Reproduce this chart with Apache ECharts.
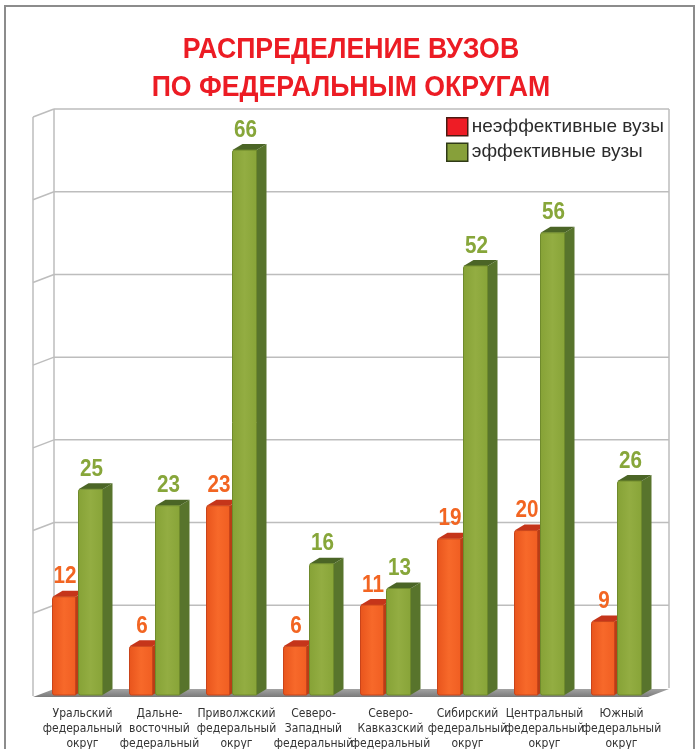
<!DOCTYPE html>
<html><head><meta charset="utf-8">
<script src="https://cdn.jsdelivr.net/npm/echarts@6/dist/echarts.min.js"></script>
<style>html,body{margin:0;padding:0;background:#fff}#c{width:699px;height:749px}</style>
</head><body><div id="c"></div>
<script>
const titleLines = ['РАСПРЕДЕЛЕНИЕ ВУЗОВ', 'ПО ФЕДЕРАЛЬНЫМ ОКРУГАМ'];
const categories = [
  'Уральский\nфедеральный\nокруг',
  'Дальне-\nвосточный\nфедеральный\nокруг',
  'Приволжский\nфедеральный\nокруг',
  'Северо-\nЗападный\nфедеральный\nокруг',
  'Северо-\nКавказский\nфедеральный\nокруг',
  'Сибирский\nфедеральный\nокруг',
  'Центральный\nфедеральный\nокруг',
  'Южный\nфедеральный\nокруг'
];
const seriesNames = ['неэффективные вузы', 'эффективные вузы'];
const ineffective = [12, 6, 23, 6, 11, 19, 20, 9];
const effective = [25, 23, 66, 16, 13, 52, 56, 26];
const wallTicks = [0, 10, 20, 30, 40, 50, 60, 70];

const chart = echarts.init(document.getElementById('c'), null, {renderer: 'canvas'});

const WALL_DX = 21, WALL_DY = -8;
const BAR_DX = 10, BAR_DY = -6;

function wallRender(params, api) {
  const cs = params.coordSys;
  const v = api.value(1);
  const y = api.coord([0, v])[1];
  const fx = cs.x - 11;
  const bx = fx + WALL_DX;
  const fxr = cs.x + cs.width - 12;
  const bxr = fxr + WALL_DX;
  const lineStyle = {stroke: '#bdbdbd', lineWidth: 1.5};
  const children = [];
  if (params.dataIndex === 0) {
    const yTop = api.coord([0, wallTicks[wallTicks.length - 1]])[1];
    children.push({type: 'line', shape: {x1: bx, y1: yTop + WALL_DY, x2: bx, y2: y + WALL_DY}, style: lineStyle});
    children.push({type: 'line', shape: {x1: bxr, y1: yTop + WALL_DY, x2: bxr, y2: y + WALL_DY}, style: lineStyle});
    children.push({type: 'line', shape: {x1: fx, y1: yTop, x2: fx, y2: y}, style: lineStyle});
    children.push({type: 'polygon', shape: {points: [[fx, y + 1], [fxr, y + 1], [bxr, y + 1 + WALL_DY], [bx, y + 1 + WALL_DY]]},
      style: {fill: new echarts.graphic.LinearGradient(0, 0, 0, 1, [{offset: 0, color: '#a3a3a3'}, {offset: 1, color: '#7a7a7a'}])}});
  } else {
    children.push({type: 'line', shape: {x1: bx, y1: y + WALL_DY, x2: bxr, y2: y + WALL_DY}, style: lineStyle});
    children.push({type: 'line', shape: {x1: fx, y1: y, x2: bx, y2: y + WALL_DY}, style: lineStyle});
  }
  return {type: 'group', children};
}

function makeBarRender(kind) {
  const cfg = kind === 0 ? {
    off: -30, w: 23,
    front: ['#e8541c', '#f7692a', '#f05e22'], edge: '#c9441a',
    side: '#b83d16', top: '#c5351a', label: '#f26522'
  } : {
    off: -4, w: 24,
    front: ['#86a236', '#93ad42', '#88a438'], edge: '#6f8a2c',
    side: '#58742c', top: '#4b6526', label: '#87a63a'
  };
  return function (params, api) {
    const i = api.value(0), v = api.value(1);
    const p = api.coord([i, v]);
    const base = api.coord([i, 0]);
    const x = p[0] + cfg.off, w = cfg.w;
    const top = p[1], bottom = base[1] - 1;
    return {type: 'group', children: [
      {type: 'polygon', shape: {points: [[x + w, top], [x + w + BAR_DX, top + BAR_DY], [x + w + BAR_DX, bottom + BAR_DY], [x + w, bottom]]},
        style: {fill: cfg.side}},
      {type: 'polygon', shape: {points: [[x, top], [x + BAR_DX, top + BAR_DY], [x + w + BAR_DX, top + BAR_DY], [x + w, top]]},
        style: {fill: cfg.top}},
      {type: 'rect', shape: {x: x, y: top, width: w, height: bottom - top, r: [2, 0, 0, 2]},
        style: {fill: new echarts.graphic.LinearGradient(0, 0, 1, 0, [
          {offset: 0, color: cfg.front[0]}, {offset: 0.5, color: cfg.front[1]}, {offset: 1, color: cfg.front[2]}]),
          stroke: cfg.edge, lineWidth: 1}},
      {type: 'text', x: x + w / 2 + 1, y: top - 8, scaleX: 0.86,
        style: {text: String(v), x: 0, y: 0, align: 'center', verticalAlign: 'bottom',
        fill: cfg.label, font: 'bold 24px "Liberation Sans", Arial, sans-serif'}}
    ]};
  };
}

const option = {
  animation: false,
  backgroundColor: '#ffffff',
  graphic: [
    {type: 'rect', shape: {x: 5, y: 6, width: 689, height: 780}, style: {fill: 'none', stroke: '#8c8c8c', lineWidth: 2}, z: 0},
    {type: 'text', x: 351, y: 50, scaleX: 0.92, style: {text: titleLines[0], align: 'center', verticalAlign: 'middle',
      fill: '#ec1c24', font: 'bold 29px "Liberation Sans", Arial, sans-serif'}},
    {type: 'text', x: 351, y: 88, scaleX: 0.92, style: {text: titleLines[1], align: 'center', verticalAlign: 'middle',
      fill: '#ec1c24', font: 'bold 29px "Liberation Sans", Arial, sans-serif'}}
  ],
  legend: {
    orient: 'vertical', left: 441, top: 112, itemGap: 6, itemWidth: 21, itemHeight: 18, icon: 'rect',
    textStyle: {color: '#2b2b2b', fontSize: 19, fontFamily: '"Liberation Sans", Arial, sans-serif', padding: [0, 0, 0, -1]},
    data: [
      {name: seriesNames[0], itemStyle: {color: '#ee1c25', borderColor: '#4a1a12', borderWidth: 1.5}},
      {name: seriesNames[1], itemStyle: {color: '#87a03a', borderColor: '#2f3a16', borderWidth: 1.5}}
    ]
  },
  grid: {left: 44, right: 39, top: 117, bottom: 53, outerBoundsMode: 'none', containLabel: false},
  xAxis: {
    type: 'category', data: categories,
    axisLine: {show: false}, axisTick: {show: false}, splitLine: {show: false},
    axisLabel: {interval: 0, margin: 10, color: '#333', fontSize: 12, lineHeight: 15,
      fontFamily: '"DejaVu Sans Condensed", "Liberation Sans Narrow", "Liberation Sans", Arial, sans-serif'}
  },
  yAxis: {type: 'value', min: 0, max: 70, interval: 10, show: false},
  series: [
    {type: 'custom', name: '_walls', silent: true, renderItem: wallRender, z: 1,
      data: wallTicks.map(v => [0, v])},
    {type: 'custom', name: seriesNames[0], renderItem: makeBarRender(0), z: 3,
      itemStyle: {color: '#ee1c25'},
      data: ineffective.map((v, i) => [i, v])},
    {type: 'custom', name: seriesNames[1], renderItem: makeBarRender(1), z: 4,
      itemStyle: {color: '#87a03a'},
      data: effective.map((v, i) => [i, v])}
  ]
};
chart.setOption(option);
</script></body></html>
